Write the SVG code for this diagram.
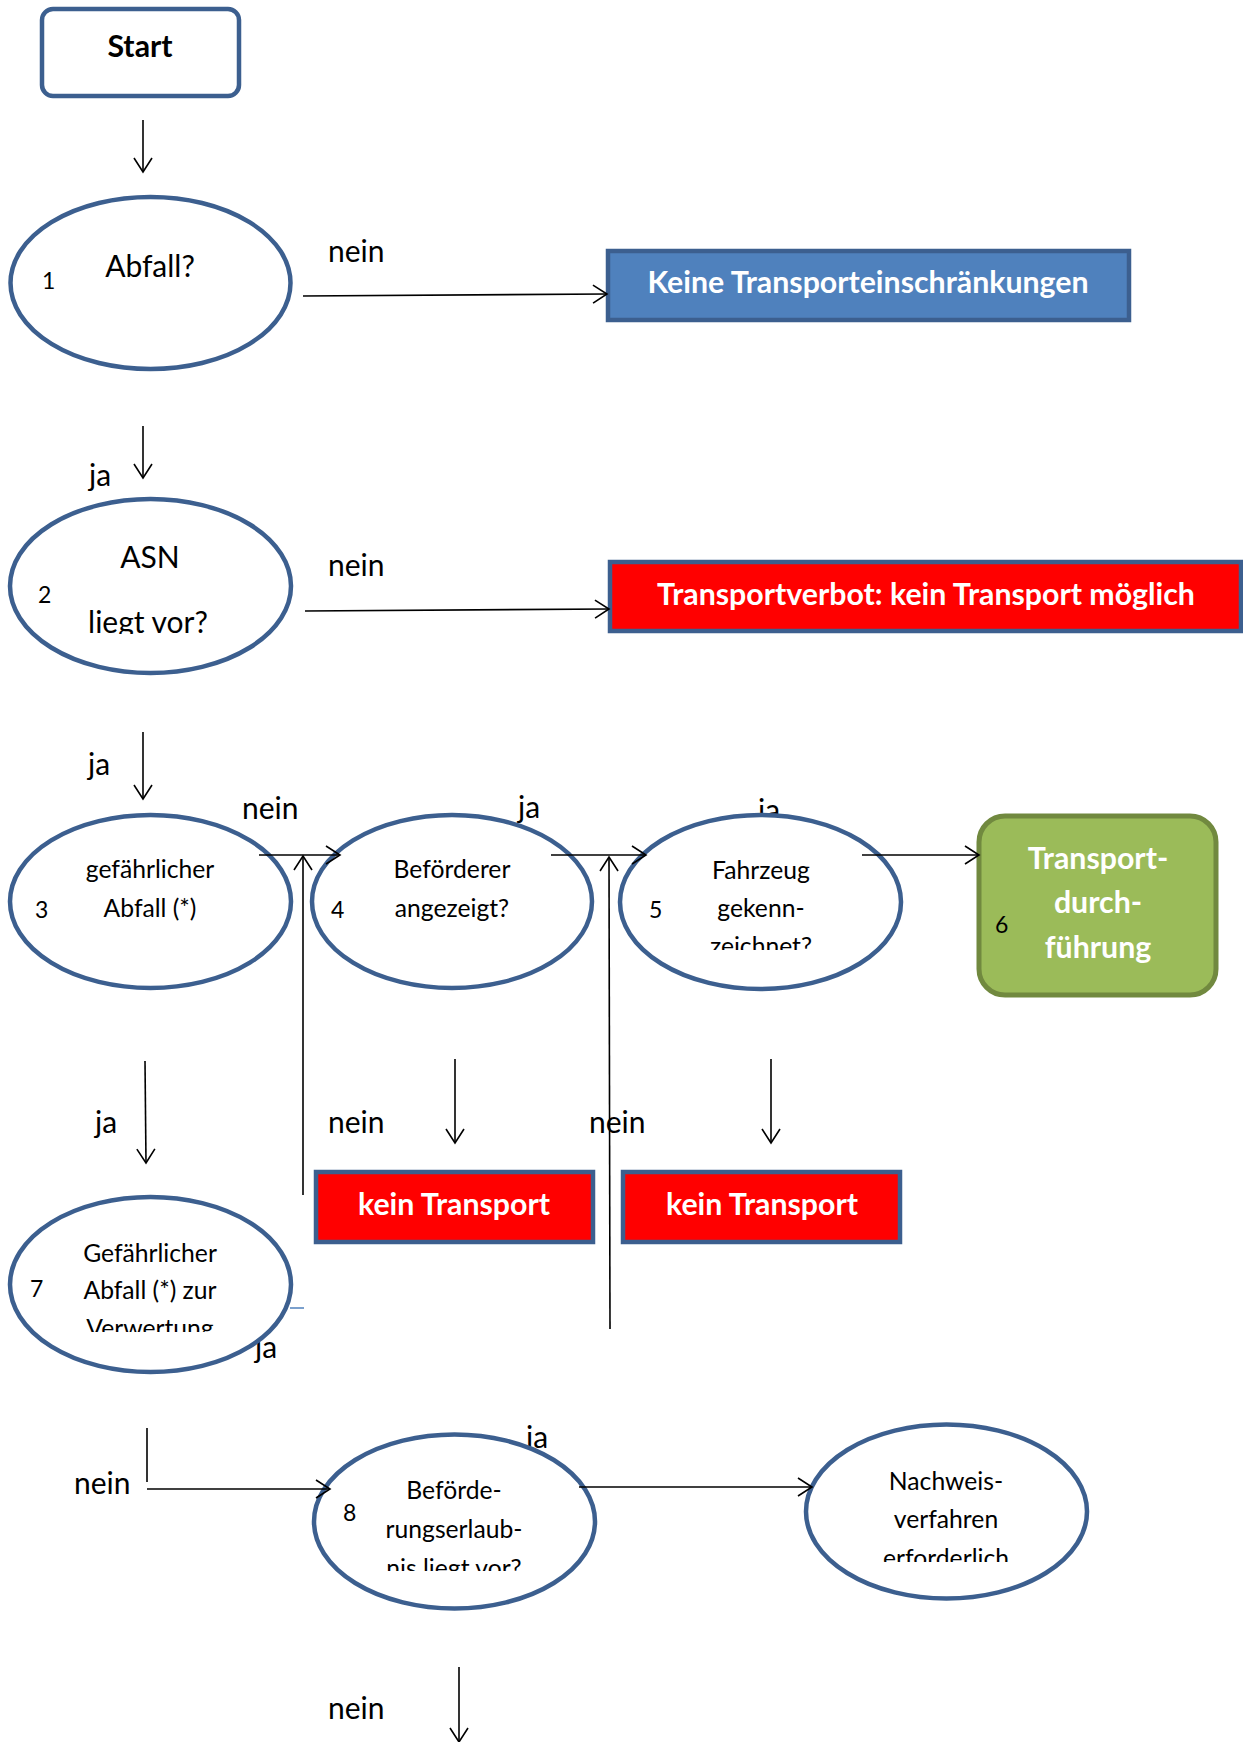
<svg xmlns="http://www.w3.org/2000/svg" width="1243" height="1742" viewBox="0 0 1243 1742">
<style>
text{font-family:Lato,"Open Sans","Liberation Sans",sans-serif;fill:#000}
.lbl{font-size:30px}
.big{font-size:30px;text-anchor:middle}
.mid{font-size:24.7px;text-anchor:middle}
.num{font-size:23px}
.bold{font-size:30.3px;font-weight:bold;text-anchor:middle}
.white{fill:#fff}
.ell{fill:#fff;stroke:#3c5f8f;stroke-width:4.5}
.red{fill:#ff0000;stroke:#3c5f8f;stroke-width:4.5}
.con{fill:none;stroke:#000;stroke-width:1.6}
</style>
<defs>
<marker id="ah" markerUnits="userSpaceOnUse" markerWidth="24" markerHeight="24" viewBox="-18 -12 20 24" refX="0" refY="0" orient="auto">
<path d="M-14,-9 L0,0 L-14,9" fill="none" stroke="#000" stroke-width="1.6"/>
</marker>
<clipPath id="c2"><rect x="0" y="500" width="300" height="134"/></clipPath>
<clipPath id="c5"><rect x="600" y="800" width="320" height="150"/></clipPath>
<clipPath id="c7"><rect x="0" y="1200" width="300" height="132"/></clipPath>
<clipPath id="c8"><rect x="300" y="1430" width="300" height="141"/></clipPath>
<clipPath id="c9"><rect x="800" y="1420" width="300" height="142"/></clipPath>
</defs>

<g id="labels-under">
<text class="lbl" x="518" y="818">ja</text>
<text class="lbl" x="758" y="821">ja</text>
<text class="lbl" x="255" y="1358">ja</text>
<text class="lbl" x="526" y="1448">ja</text>
</g>

<g id="start">
<rect x="42" y="9" width="197" height="87" rx="11" fill="#fff" stroke="#3c5f8f" stroke-width="4.5"/>
<text class="bold" x="140" y="57">Start</text>
</g>

<g id="n1">
<ellipse class="ell" cx="150.5" cy="283" rx="140" ry="86"/>
<text class="big" x="150" y="277">Abfall?</text>
<text class="num" x="42" y="289">1</text>
</g>

<g id="keine">
<rect x="608" y="251" width="521" height="69" fill="#4f81bd" stroke="#3c5f8f" stroke-width="4.5"/>
<text class="bold white" x="868" y="293">Keine Transporteinschränkungen</text>
</g>

<g id="n2">
<ellipse class="ell" cx="150.5" cy="586" rx="140.5" ry="87"/>
<text class="big" x="150" y="568">ASN</text>
<text class="big" x="148" y="633" clip-path="url(#c2)">liegt vor?</text>
<text class="num" x="38" y="603">2</text>
</g>

<g id="verbot">
<rect x="610" y="562" width="631" height="69" class="red"/>
<text class="bold white" x="926" y="605">Transportverbot: kein Transport möglich</text>
</g>

<g id="n3">
<ellipse class="ell" cx="150.5" cy="901.5" rx="140.5" ry="86.5"/>
<text class="mid" x="150" y="878">gefährlicher</text>
<text class="mid" x="150" y="917">Abfall (*)</text>
<text class="num" x="35" y="918">3</text>
</g>

<g id="n4">
<ellipse class="ell" cx="452" cy="901.5" rx="140" ry="86.5"/>
<text class="mid" x="452" y="878">Beförderer</text>
<text class="mid" x="452" y="917">angezeigt?</text>
<text class="num" x="331" y="918">4</text>
</g>

<g id="n5">
<ellipse class="ell" cx="760.5" cy="902" rx="140.5" ry="87"/>
<text class="mid" x="761" y="879">Fahrzeug</text>
<text class="mid" x="761" y="917">gekenn-</text>
<text class="mid" x="761" y="955" clip-path="url(#c5)">zeichnet?</text>
<text class="num" x="649" y="918">5</text>
</g>

<g id="n6">
<rect x="979" y="816" width="237" height="179" rx="26" fill="#9bbb59" stroke="#71893f" stroke-width="5"/>
<text class="bold white" x="1098" y="869">Transport-</text>
<text class="bold white" x="1098" y="913">durch-</text>
<text class="bold white" x="1098" y="958">führung</text>
<text class="num" x="995" y="933">6</text>
</g>

<g id="kt1">
<rect x="316" y="1172" width="277" height="70" class="red"/>
<text class="bold white" x="454" y="1215">kein Transport</text>
</g>

<g id="kt2">
<rect x="623" y="1172" width="277" height="70" class="red"/>
<text class="bold white" x="762" y="1215">kein Transport</text>
</g>

<g id="n7">
<ellipse class="ell" cx="150.5" cy="1284.5" rx="140.5" ry="87.5"/>
<text class="mid" x="150" y="1262">Gefährlicher</text>
<text class="mid" x="150" y="1299">Abfall (*) zur</text>
<text class="mid" x="150" y="1337" clip-path="url(#c7)">Verwertung</text>
<text class="num" x="30" y="1297">7</text>
</g>

<g id="n8">
<ellipse class="ell" cx="454.5" cy="1521.5" rx="140.5" ry="87"/>
<text class="mid" x="454" y="1499">Beförde-</text>
<text class="mid" x="454" y="1538">rungserlaub-</text>
<text class="mid" x="454" y="1577" clip-path="url(#c8)">nis liegt vor?</text>
<text class="num" x="343" y="1521">8</text>
</g>

<g id="n9">
<ellipse class="ell" cx="946.5" cy="1511.5" rx="140.5" ry="87"/>
<text class="mid" x="946" y="1490">Nachweis-</text>
<text class="mid" x="946" y="1528">verfahren</text>
<text class="mid" x="946" y="1567" clip-path="url(#c9)">erforderlich</text>
</g>

<g id="connectors">
<line class="con" x1="143" y1="120" x2="143" y2="172" marker-end="url(#ah)"/>
<line class="con" x1="303" y1="296" x2="607" y2="294" marker-end="url(#ah)"/>
<line class="con" x1="143" y1="426" x2="143" y2="478" marker-end="url(#ah)"/>
<line class="con" x1="305" y1="611" x2="609" y2="609" marker-end="url(#ah)"/>
<line class="con" x1="143" y1="732" x2="143" y2="799" marker-end="url(#ah)"/>
<line class="con" x1="259" y1="855" x2="340" y2="855" marker-end="url(#ah)"/>
<line class="con" x1="303" y1="1195" x2="303" y2="856" marker-end="url(#ah)"/>
<line class="con" x1="551" y1="855" x2="646" y2="855" marker-end="url(#ah)"/>
<line class="con" x1="610" y1="1329" x2="609" y2="857" marker-end="url(#ah)"/>
<line class="con" x1="862" y1="855" x2="979" y2="855" marker-end="url(#ah)"/>
<line class="con" x1="145" y1="1061" x2="146" y2="1163" marker-end="url(#ah)"/>
<line class="con" x1="455" y1="1059" x2="455" y2="1143" marker-end="url(#ah)"/>
<line class="con" x1="771" y1="1059" x2="771" y2="1143" marker-end="url(#ah)"/>
<line x1="290" y1="1308" x2="304" y2="1308" stroke="#4f81bd" stroke-width="1.5"/>
<line class="con" x1="147" y1="1428" x2="147" y2="1482"/>
<line class="con" x1="147" y1="1489" x2="330" y2="1489" marker-end="url(#ah)"/>
<line class="con" x1="579" y1="1487" x2="812" y2="1487" marker-end="url(#ah)"/>
<line class="con" x1="459" y1="1667" x2="459" y2="1742" marker-end="url(#ah)"/>
</g>

<g id="labels">
<text class="lbl" x="328" y="262">nein</text>
<text class="lbl" x="89" y="486">ja</text>
<text class="lbl" x="328" y="576">nein</text>
<text class="lbl" x="88" y="775">ja</text>
<text class="lbl" x="242" y="819">nein</text>
<text class="lbl" x="95" y="1133">ja</text>
<text class="lbl" x="328" y="1133">nein</text>
<text class="lbl" x="589" y="1133">nein</text>
<text class="lbl" x="74" y="1494">nein</text>
<text class="lbl" x="328" y="1719">nein</text>
</g>
</svg>
